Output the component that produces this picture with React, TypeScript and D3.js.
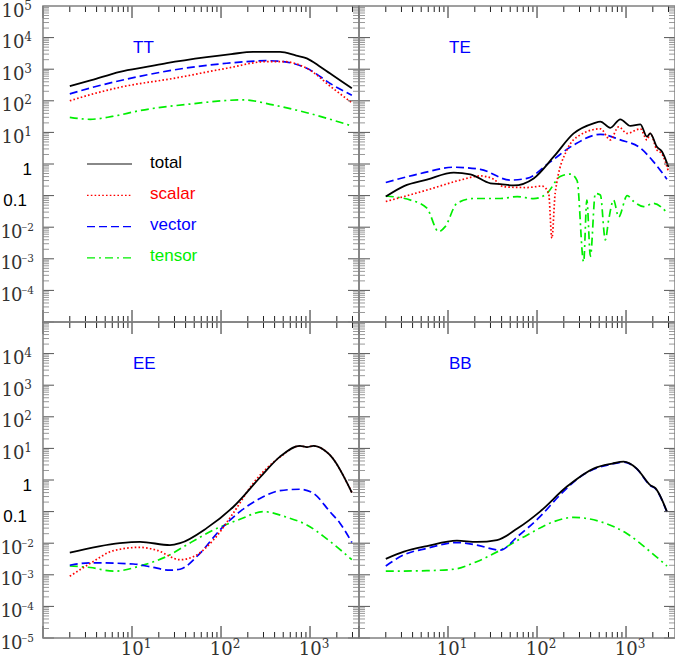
import React, { useRef, useEffect } from 'react';
import * as d3 from 'd3';

type Pt = [number, number];

// TT panel: [ell, C_ell]
const ttTotal: Pt[] = [[2, 290], [3.5, 450], [7.3, 830], [15, 1200], [24.5, 1550], [69, 2400], [130, 3000], [229, 3550], [460, 3550], [700, 2700], [920, 2200], [1300, 1200], [1670, 740], [2300, 400], [2950, 250]];
const ttScalar: Pt[] = [[2, 100], [3.5, 160], [7.9, 280], [29, 510], [116, 1070], [327, 1740], [500, 1740], [920, 1070], [1800, 250], [2950, 87]];
const ttVector: Pt[] = [[2, 165], [3.5, 260], [7.9, 455], [29, 940], [116, 1540], [327, 1860], [500, 1740], [920, 1070], [1800, 316], [2950, 150]];
const ttTensor: Pt[] = [[2, 30], [3.4, 26], [6, 32], [12.3, 49], [44.8, 79], [177, 107], [385, 74], [920, 42], [2950, 16]];

// TE panel (absolute values)
const teTotal: Pt[] = [[2, 0.093], [3.2, 0.2], [5.8, 0.32], [11.6, 0.53], [17.8, 0.47], [30, 0.245], [38.7, 0.23], [54.6, 0.21], [91.6, 0.35], [154, 1.7], [258, 9.3], [432, 19.4], [515, 22], [665, 14], [862, 26], [1120, 16], [1450, 18], [1720, 7.3], [1870, 9.3], [2220, 3.5], [2530, 2.5], [3000, 0.8]];
const teScalar: Pt[] = [[2, 0.065], [5.8, 0.15], [13.8, 0.31], [23, 0.42], [32.6, 0.33], [42, 0.19], [77, 0.18], [114, 0.2], [135, 0.12], [147, 0.0045], [160, 0.12], [217, 2.8], [306, 8.3], [515, 13], [665, 5.8], [826, 15], [1030, 9.3], [1450, 13], [1720, 5.8], [1870, 9.3], [2220, 2.8], [2530, 2.1], [3000, 0.57]];
const teVector: Pt[] = [[2, 0.26], [4.9, 0.5], [11.6, 0.79], [23, 0.68], [50, 0.31], [77, 0.35], [141, 1.17], [258, 4], [515, 8.7], [862, 5.8], [1450, 3.2], [2040, 1.17], [2880, 0.33]];
const teTensor: Pt[] = [[2, 0.097], [3.8, 0.072], [5.8, 0.04], [7.85, 0.0072], [9.3, 0.0104], [12.6, 0.057], [19.4, 0.081], [38.7, 0.081], [60, 0.093], [91.6, 0.08], [129, 0.117], [182, 0.4], [237, 0.48], [282, 0.3], [334, 0.0008], [363, 0.072], [398, 0.0012], [452, 0.117], [515, 0.105], [585, 0.004], [638, 0.017], [725, 0.072], [826, 0.021], [1030, 0.1], [1220, 0.065], [1580, 0.045], [2040, 0.057], [2880, 0.029]];

// EE panel
const eeTotal: Pt[] = [[2, 0.005], [7.3, 0.01], [12.3, 0.011], [26.7, 0.0087], [34.6, 0.01], [69, 0.03], [137, 0.14], [274, 1.2], [460, 5.5], [770, 12], [920, 11], [1090, 12], [1410, 9.3], [1670, 6.2], [1970, 3.4], [2340, 1.45], [2950, 0.4]];
const eeScalar: Pt[] = [[2, 0.0009], [3.4, 0.0023], [6.2, 0.0058], [12.3, 0.0074], [19, 0.006], [34.6, 0.003], [48.6, 0.0037], [82, 0.0126], [137, 0.089], [230, 0.79], [460, 5.3], [770, 12], [920, 11], [1090, 12], [1410, 9.3], [1670, 6.2], [1970, 3.4], [2340, 1.45], [2950, 0.4]];
const eeVector: Pt[] = [[2, 0.002], [3.4, 0.0024], [10.3, 0.0022], [16, 0.0018], [26.7, 0.0014], [34.6, 0.0015], [58, 0.0048], [97, 0.026], [163, 0.1], [274, 0.26], [460, 0.46], [770, 0.51], [1090, 0.38], [1670, 0.1], [2170, 0.043], [2950, 0.0105]];
const eeTensor: Pt[] = [[2, 0.0019], [3.4, 0.0017], [6.2, 0.0013], [12.3, 0.0019], [26.7, 0.0043], [41, 0.0088], [82, 0.026], [163, 0.057], [300, 0.1], [550, 0.066], [920, 0.038], [1530, 0.014], [2950, 0.003]];

// BB panel
const bbTotal: Pt[] = [[2, 0.0032], [3.2, 0.0054], [5.8, 0.0081], [12.6, 0.012], [21, 0.011], [35.5, 0.0126], [60, 0.029], [108, 0.1], [217, 0.62], [432, 2.3], [700, 3.3], [940, 3.8], [1320, 2.3], [1870, 0.69], [2140, 0.55], [2880, 0.1]];
const bbVector: Pt[] = [[2, 0.0019], [3.2, 0.0043], [5.8, 0.0069], [12.6, 0.0105], [21, 0.0087], [38.7, 0.006], [60, 0.016], [108, 0.069], [182, 0.34], [306, 1.26], [432, 2.2], [700, 3.2], [940, 3.7], [1320, 2.25], [1870, 0.67], [2140, 0.53], [2880, 0.097]];
const bbTensor: Pt[] = [[2, 0.0013], [5.8, 0.00135], [11.6, 0.0015], [21, 0.0026], [38.7, 0.006], [77, 0.018], [154, 0.048], [258, 0.066], [515, 0.048], [1030, 0.02], [1870, 0.0054], [2880, 0.0019]];

const legendLabels = ['total', 'scalar', 'vector', 'tensor'];
const yExpTop = [5, 4, 3, 2, 1, 0, -1, -2, -3, -4];
const yExpBottom = [4, 3, 2, 1, 0, -1, -2, -3, -4, -5];
const xExp = [1, 2, 3];

const styles: Record<string, { color: string; dash: string | null }> = {
  total: { color: '#000', dash: null },
  scalar: { color: '#ff0000', dash: '1.6,2.2' },
  vector: { color: '#0000ff', dash: '8,4' },
  tensor: { color: '#00ee00', dash: '8,4,2,4' },
};

const panels = [
  { title: 'TT', col: 0, row: 0, series: { total: ttTotal, scalar: ttScalar, vector: ttVector, tensor: ttTensor } },
  { title: 'TE', col: 1, row: 0, series: { total: teTotal, scalar: teScalar, vector: teVector, tensor: teTensor } },
  { title: 'EE', col: 0, row: 1, series: { total: eeTotal, scalar: eeScalar, vector: eeVector, tensor: eeTensor } },
  { title: 'BB', col: 1, row: 1, series: { total: bbTotal, vector: bbVector, tensor: bbTensor } },
];

const left = 43;
const top = 6;
const pw = 316;
const ph = 316;

// "10" with a superscript exponent
function powerLabel(t: d3.Selection<SVGTextElement, unknown, null, undefined>, e: number) {
  const base = t.append('tspan').text('10');
  if (e < 0) base.attr('letter-spacing', -1);
  const sup = t.append('tspan').attr('dy', -7).attr('font-size', e < 0 ? 10.5 : 12);
  if (e < 0) {
    sup.append('tspan').attr('font-family', 'Liberation Serif, serif').text('\u2212');
  }
  sup.append('tspan').text(String(Math.abs(e)));
}

const App: React.FC = () => {
  const svgRef = useRef<SVGSVGElement | null>(null);

  useEffect(() => {
    const svg = d3.select(svgRef.current);
    svg.selectAll('*').remove();

    const xTicks: number[] = [];
    for (let k = 0; k < 4; k++) for (let m = 1; m < 10; m++) if (m * 10 ** k < 3550) xTicks.push(m * 10 ** k);
    const yTicks: number[] = [];
    for (let k = -5; k < 5; k++) for (let m = 1; m < 10; m++) yTicks.push(m * 10 ** k);

    panels.forEach(p => {
      const x0 = left + p.col * pw;
      const y0 = top + p.row * ph;
      const x = d3.scaleLog().domain([1, 3550]).range([x0, x0 + pw]);
      const y = d3.scaleLog().domain([1e-5, 1e5]).range([y0 + ph, y0]);
      const g = svg.append('g');

      // curves
      const line = d3.line<Pt>()
        .x(d => x(d[0]))
        .y(d => y(d[1]))
        .curve(d3.curveMonotoneX);
      const order = ['tensor', 'vector', 'scalar', 'total'];
      order.forEach(name => {
        const data = (p.series as Record<string, Pt[]>)[name];
        if (!data) return;
        const s = styles[name];
        g.append('path')
          .attr('d', line(data))
          .attr('fill', 'none')
          .attr('stroke', s.color)
          .attr('stroke-width', name === 'total' ? 1.8 : 1.7)
          .attr('stroke-dasharray', s.dash);
      });

      // x ticks
      xTicks.forEach(t => {
        const major = Math.log10(t) % 1 === 0;
        const len = major ? 12 : 6;
        const xx = x(t);
        g.append('line').attr('x1', xx).attr('x2', xx).attr('y1', y0 + ph).attr('y2', y0 + ph - len)
          .attr('stroke', '#222').attr('stroke-width', 1);
        g.append('line').attr('x1', xx).attr('x2', xx).attr('y1', y0).attr('y2', y0 + len)
          .attr('stroke', '#222').attr('stroke-width', 1);
      });

      // y ticks
      yTicks.forEach(t => {
        const major = Math.abs(Math.log10(t) - Math.round(Math.log10(t))) < 1e-9;
        const len = major ? 11 : 6;
        const yy = y(t);
        const col = major ? '#555' : '#999';
        g.append('line').attr('x1', x0).attr('x2', x0 + len).attr('y1', yy).attr('y2', yy)
          .attr('stroke', col).attr('stroke-width', 1);
        g.append('line').attr('x1', x0 + pw).attr('x2', x0 + pw - len).attr('y1', yy).attr('y2', yy)
          .attr('stroke', col).attr('stroke-width', 1);
      });

      // frame
      g.append('rect')
        .attr('x', x0).attr('y', y0).attr('width', pw).attr('height', ph)
        .attr('fill', 'none').attr('stroke', '#808080').attr('stroke-width', 1.5);

      // title
      g.append('text')
        .attr('x', x0 + 90).attr('y', y0 + 47)
        .attr('font-family', 'Liberation Sans, Arial, sans-serif')
        .attr('font-size', 17)
        .attr('fill', '#0000ff')
        .text(p.title);

      // y labels
      if (p.col === 0) {
        const exps = p.row === 0 ? yExpTop : yExpBottom;
        exps.forEach(e => {
          const yy = y(10 ** e) + 10.5;
          if (e === 0 || e === -1) {
            g.append('text')
              .attr('x', e === 0 ? 32 : 27).attr('y', yy)
              .attr('text-anchor', 'end')
              .attr('font-family', 'Liberation Sans, Arial, sans-serif')
              .attr('font-size', 17)
              .attr('fill', '#000')
              .text(e === 0 ? '1' : '0.1');
          } else {
            const t = g.append('text')
              .attr('x', e < 0 ? 34 : 32).attr('y', yy)
              .attr('text-anchor', 'end')
              .attr('font-family', 'DejaVu Serif, serif')
              .attr('font-size', 18)
              .attr('fill', '#333');
            powerLabel(t, e);
          }
        });
      }

      // x labels
      if (p.row === 1) {
        xExp.forEach(e => {
          const t = g.append('text')
            .attr('x', x(10 ** e) + 4).attr('y', 655)
            .attr('text-anchor', 'middle')
            .attr('font-family', 'DejaVu Serif, serif')
            .attr('font-size', 18)
            .attr('fill', '#333');
          powerLabel(t, e);
        });
      }
    });

    // legend
    const leg = svg.append('g');
    legendLabels.forEach((name, i) => {
      const ly = 164 + i * 31.3;
      const s = styles[name];
      leg.append('line')
        .attr('x1', 87).attr('x2', 132).attr('y1', ly).attr('y2', ly)
        .attr('stroke', name === 'total' ? '#888' : s.color)
        .attr('stroke-width', name === 'total' ? 2 : 1.2)
        .attr('stroke-dasharray', name === 'total' ? null : s.dash);
      leg.append('text')
        .attr('x', 150).attr('y', ly + 3.5)
        .attr('font-family', 'Liberation Sans, Arial, sans-serif')
        .attr('font-size', 17)
        .attr('fill', name === 'total' ? '#000' : s.color)
        .text(name);
    });
  }, []);

  return (
    <svg ref={svgRef} width={675} height={660}
      style={{ position: 'absolute', left: 0, top: 0, background: '#fff' }} />
  );
};

export default App;
